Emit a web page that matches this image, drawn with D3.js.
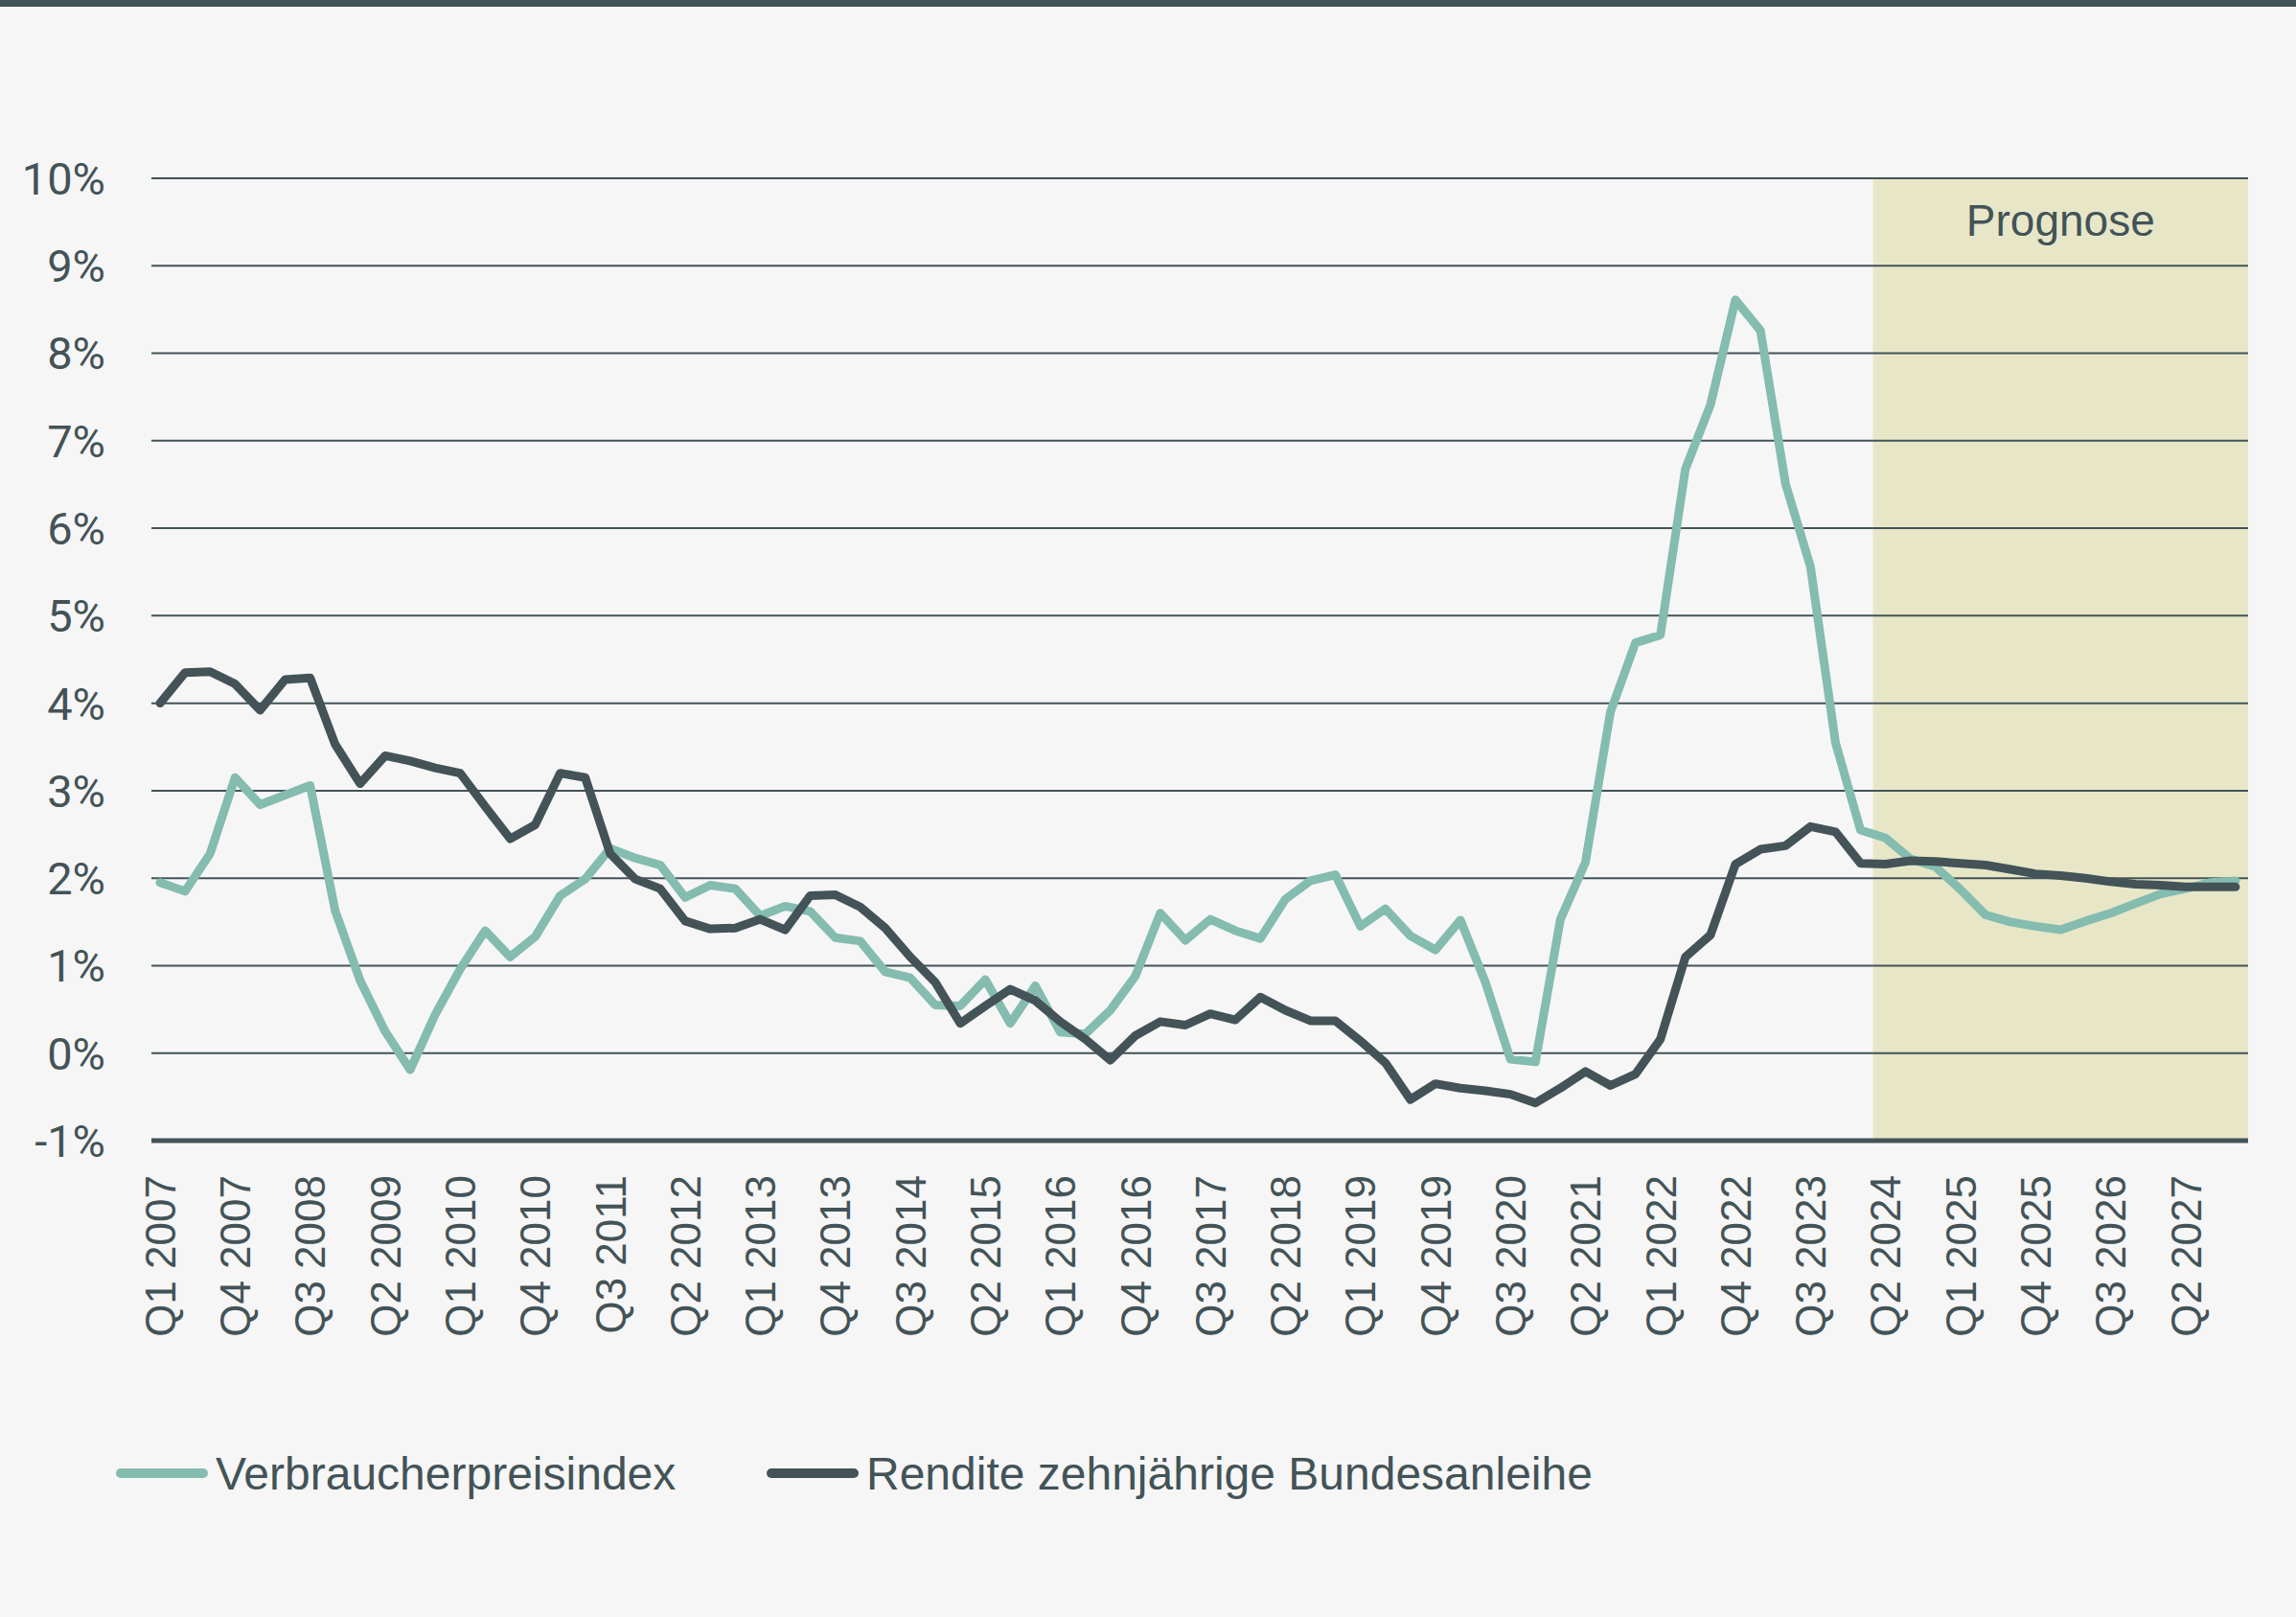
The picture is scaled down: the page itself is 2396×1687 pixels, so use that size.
<!DOCTYPE html>
<html>
<head>
<meta charset="utf-8">
<script src="https://cdn.jsdelivr.net/npm/d3@7"></script>
<style>
  body { margin: 0; background: #f6f6f6; }
  svg { display: block; font-family: "Liberation Sans", Arial, sans-serif; }
</style>
</head>
<body>
<svg id="chart"></svg>
<script>
// quarters Q1 2007 .. Q4 2027
const startYear = 2007, endYear = 2027;
const quarters = [];
for (let y = startYear; y <= endYear; y++) {
  for (let q = 1; q <= 4; q++) quarters.push(`Q${q} ${y}`);
}

// Verbraucherpreisindex (%)
const cpi = [
  1.95, 1.85, 2.28, 3.15, 2.84, 2.95, 3.06, 1.63, 0.83, 0.25, -0.19, 0.44,
  0.96, 1.40, 1.10, 1.33, 1.80, 1.99, 2.34, 2.23, 2.15, 1.78, 1.92, 1.88,
  1.57, 1.68, 1.62, 1.32, 1.28, 0.93, 0.86, 0.55, 0.54, 0.84, 0.34, 0.77,
  0.24, 0.22, 0.49, 0.88, 1.60, 1.29, 1.53, 1.40, 1.31, 1.76, 1.97, 2.04,
  1.45, 1.65, 1.34, 1.18, 1.52, 0.81, -0.07, -0.10, 1.53, 2.18, 3.90, 4.69,
  4.78, 6.68, 7.41, 8.61, 8.26, 6.51, 5.56, 3.55, 2.55, 2.46, 2.22, 2.13,
  1.87, 1.58, 1.50, 1.45, 1.41, 1.51, 1.60, 1.71, 1.82, 1.88, 1.95, 1.97
];

// Rendite zehnjährige Bundesanleihe (%)
const bund = [
  4.00, 4.35, 4.36, 4.22, 3.92, 4.27, 4.29, 3.53, 3.08, 3.40, 3.34, 3.26,
  3.20, 2.82, 2.45, 2.61, 3.20, 3.15, 2.28, 1.99, 1.88, 1.51, 1.42, 1.43,
  1.53, 1.41, 1.80, 1.81, 1.67, 1.43, 1.10, 0.81, 0.34, 0.54, 0.73, 0.60,
  0.36, 0.16, -0.08, 0.20, 0.36, 0.32, 0.45, 0.38, 0.64, 0.49, 0.37, 0.37,
  0.14, -0.11, -0.53, -0.35, -0.40, -0.43, -0.47, -0.57, -0.40, -0.21, -0.37, -0.24,
  0.16, 1.10, 1.35, 2.16, 2.33, 2.37, 2.59, 2.53, 2.17, 2.16, 2.20, 2.19,
  2.17, 2.15, 2.10, 2.05, 2.03, 2.00, 1.96, 1.93, 1.92, 1.90, 1.90, 1.90
];

const yTicks = [-1, 0, 1, 2, 3, 4, 5, 6, 7, 8, 9, 10];
const xTickLabels = quarters.filter((d, i) => i % 3 === 0);
const forecastStart = 'Q2 2024';
const forecastLabel = 'Prognose';
const seriesNames = ['Verbraucherpreisindex', 'Rendite zehnjährige Bundesanleihe'];

class LineChart {
  constructor(_config) {
    this.config = {
      parentElement: _config.parentElement,
      containerWidth: _config.containerWidth,
      containerHeight: _config.containerHeight,
      margin: {top: 186, right: 50, bottom: 497, left: 154},
    }
    this.dark = '#435357';
    this.green = '#84bcaf';
    this.initVis();
  }

  initVis() {
    let vis = this;
    vis.width = vis.config.containerWidth - vis.config.margin.left - vis.config.margin.right;
    vis.height = vis.config.containerHeight - vis.config.margin.top - vis.config.margin.bottom;

    vis.xScale = d3.scaleBand()
        .domain(quarters)
        .range([0, vis.width]);

    vis.yScale = d3.scaleLinear()
        .domain([-1, 10])
        .range([vis.height, 0]);

    vis.svg = d3.select(vis.config.parentElement)
        .attr('width', vis.config.containerWidth)
        .attr('height', vis.config.containerHeight);

    vis.svg.append('rect')
        .attr('width', vis.config.containerWidth)
        .attr('height', vis.config.containerHeight)
        .attr('fill', '#f6f6f6');

    // top bar
    vis.svg.append('rect')
        .attr('width', vis.config.containerWidth)
        .attr('height', 7)
        .attr('fill', vis.dark);

    vis.chart = vis.svg.append('g')
        .attr('transform', `translate(${vis.config.margin.left},${vis.config.margin.top})`);

    vis.renderVis();
  }

  renderVis() {
    let vis = this;
    const xc = d => vis.xScale(d) + vis.xScale.bandwidth() / 2;

    // forecast band
    const fx = vis.xScale(forecastStart);
    vis.chart.append('rect')
        .attr('x', fx)
        .attr('y', 0)
        .attr('width', vis.width - fx)
        .attr('height', vis.height)
        .attr('fill', '#e7e7c8');

    vis.chart.append('text')
        .attr('x', (fx + vis.width) / 2)
        .attr('y', 60)
        .attr('text-anchor', 'middle')
        .attr('font-size', 46)
        .attr('fill', vis.dark)
        .text(forecastLabel);

    // grid
    vis.chart.selectAll('.grid')
      .data(yTicks)
      .join('line')
        .attr('class', 'grid')
        .attr('x1', 4)
        .attr('x2', vis.width)
        .attr('y1', d => vis.yScale(d))
        .attr('y2', d => vis.yScale(d))
        .attr('stroke', vis.dark)
        .attr('stroke-width', d => d === -1 ? 5 : 2);

    // y labels
    vis.chart.selectAll('.ylab')
      .data(yTicks)
      .join('text')
        .attr('class', 'ylab')
        .attr('x', -44)
        .attr('y', d => vis.yScale(d))
        .attr('dy', '0.36em')
        .attr('text-anchor', 'end')
        .attr('font-family', 'Roboto, sans-serif')
        .attr('font-size', 47)
        .attr('fill', vis.dark)
        .text(d => d + '%');

    // x labels
    vis.chart.selectAll('.xlab')
      .data(xTickLabels)
      .join('text')
        .attr('class', 'xlab')
        .attr('transform', d => `translate(${xc(d)},${vis.height + 36}) rotate(-90)`)
        .attr('dy', '0.36em')
        .attr('text-anchor', 'end')
        .attr('font-size', 44)
        .attr('fill', vis.dark)
        .text(d => d);

    const line = d3.line()
        .x((d, i) => xc(quarters[i]))
        .y(d => vis.yScale(d));

    vis.chart.append('path')
        .datum(cpi)
        .attr('d', line)
        .attr('fill', 'none')
        .attr('stroke', vis.green)
        .attr('stroke-width', 9)
        .attr('stroke-linejoin', 'round')
        .attr('stroke-linecap', 'round');

    vis.chart.append('path')
        .datum(bund)
        .attr('d', line)
        .attr('fill', 'none')
        .attr('stroke', vis.dark)
        .attr('stroke-width', 9)
        .attr('stroke-linejoin', 'round')
        .attr('stroke-linecap', 'round');

    // legend
    const legend = vis.svg.append('g').attr('transform', 'translate(0,1537)');
    const items = [
      {name: seriesNames[0], color: vis.green, x: 126},
      {name: seriesNames[1], color: vis.dark, x: 805}
    ];
    items.forEach(it => {
      legend.append('line')
          .attr('x1', it.x).attr('x2', it.x + 86)
          .attr('y1', 0).attr('y2', 0)
          .attr('stroke', it.color)
          .attr('stroke-width', 10)
          .attr('stroke-linecap', 'round');
      legend.append('text')
          .attr('x', it.x + 99)
          .attr('y', 17)
          .attr('font-size', 48)
          .attr('fill', vis.dark)
          .text(it.name);
    });
  }
}

new LineChart({parentElement: '#chart', containerWidth: 2396, containerHeight: 1687});
</script>
</body>
</html>
